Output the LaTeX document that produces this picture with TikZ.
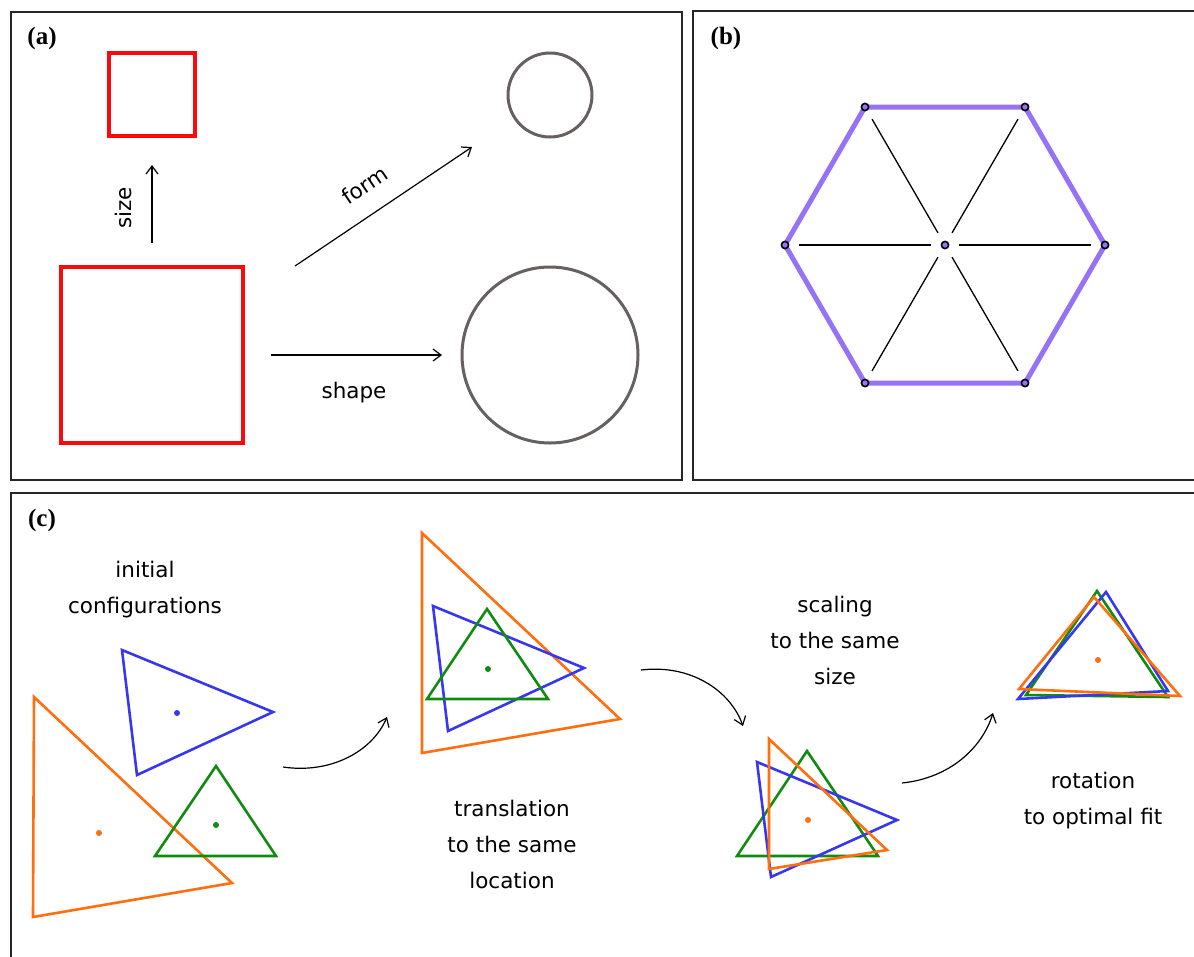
\documentclass[tikz,border=0pt]{standalone}
\usepackage{fontspec}
\setsansfont{DejaVu Sans}
\newfontfamily\panelfont{Liberation Serif}
\usepackage{tikz}
\usetikzlibrary{positioning,arrows.meta,calc}
\definecolor{sqred}{RGB}{250,10,10}
\definecolor{circgray}{RGB}{102,96,96}
\definecolor{hexpurple}{RGB}{150,114,245}
\definecolor{tblue}{RGB}{55,55,240}
\definecolor{torange}{RGB}{255,110,15}
\definecolor{tgreen}{RGB}{15,140,15}
\tikzset{
  panel/.style={draw=black!85,line width=1.5pt},
  plabel/.style={font=\panelfont\bfseries\fontsize{25}{28}\selectfont,inner sep=0pt},
  caption/.style={font=\fontsize{21.5}{36}\selectfont\sffamily,align=center,inner sep=0pt},
  flow/.style={line width=1.2pt,-{Straight Barb[length=8pt,width=12pt,line width=1.2pt]}},
  tri/.style={line width=2.6pt,line join=miter},
  dotmark/.style={fill,radius=3pt},
}
\begin{document}
\begin{tikzpicture}[x=1pt,y=-1pt]
\path[use as bounding box,clip] (0,0) rectangle (1194,956);
% frames
\draw[panel] (11,12) rectangle (682,480);
\draw[panel] (693,11) rectangle (1210,480);
\draw[panel] (11,493) rectangle (1210,975);
\node[plabel] (la) at (42,38) {(a)};
\node[plabel] (lb) at (726,38) {(b)};
\node[plabel] (lc) at (42,520) {(c)};

% (a) size, form, shape
\draw[sqred,line width=3.5pt] (109,53) rectangle (195,136);
\draw[sqred,line width=3.5pt] (61,267) rectangle (243,443);
\draw[circgray,line width=3pt] (550,95) circle[radius=42pt];
\draw[circgray,line width=3pt] (550,355) circle[radius=88pt];
\coordinate (szs) at (152,243); \coordinate (sze) at (152,165);
\coordinate (fms) at (295,266); \coordinate (fme) at (472,147);
\coordinate (shs) at (271,355); \coordinate (she) at (442,355);
\draw[flow] (szs) -- (sze);
\draw[flow] (fms) -- (fme);
\draw[flow] (shs) -- (she);
\node[caption,rotate=90] (size) at (123,208) {size};
\node[caption,rotate=34] (form) at (365,185) {form};
\node[caption] (shape) at (354,393) {shape};

% (b) hexagon with spokes
\coordinate (hc) at (945,245);
\coordinate (h1) at (1105,245); \coordinate (h2) at (1025,107);
\coordinate (h3) at (865,107);  \coordinate (h4) at (785,245);
\coordinate (h5) at (865,383);  \coordinate (h6) at (1025,383);
\draw[hexpurple,line width=5pt,line join=round] (h1) -- (h2) -- (h3) -- (h4) -- (h5) -- (h6) -- cycle;
\foreach \v in {h1,h2,h3,h4,h5,h6}
  \draw[line width=1.3pt,shorten <=14pt,shorten >=14pt] (hc) -- (\v);
\foreach \v in {hc,h1,h2,h3,h4,h5,h6}
  \draw[line width=1.6pt,fill=hexpurple] (\v) circle[radius=3.6pt];

% (c) initial configurations
\draw[tri,tblue] (122,650) -- (273,712) -- (137,775) -- cycle;
\draw[tri,torange] (34,697) -- (232,883) -- (33,917) -- cycle;
\draw[tri,tgreen] (216,766) -- (276,856) -- (155,856) -- cycle;
\fill[tblue] (177,713) circle[dotmark];
\fill[torange] (99,833) circle[dotmark];
\fill[tgreen] (216,825) circle[dotmark];
\node[caption] (init) at (145,590) {initial\\configurations};
% translated
\draw[tri,torange] (422,533) -- (620,719) -- (422,753) -- cycle;
\draw[tri,tblue] (433,606) -- (584,668) -- (448,731) -- cycle;
\draw[tri,tgreen] (487,609) -- (548,699) -- (427,699) -- cycle;
\fill[tgreen] (488,669) circle[dotmark];
\node[caption] (transl) at (512,844) {translation\\to the same\\location};
% scaled
\draw[tri,tgreen] (807,751) -- (878,856) -- (737,856) -- cycle;
\draw[tri,tblue] (757,762) -- (897,820) -- (771,877) -- cycle;
\draw[tri,torange] (769,739) -- (887,850) -- (769,869) -- cycle;
\fill[torange] (808,820) circle[dotmark];
\node[caption] (scal) at (835,640) {scaling\\to the same\\size};
% rotated
\draw[tri,tgreen] (1097,591) -- (1168,697) -- (1026,695) -- cycle;
\draw[tri,tblue] (1106,592) -- (1168,691) -- (1018,699) -- cycle;
\draw[tri,torange] (1094,597) -- (1180,696) -- (1019,689) -- cycle;
\fill[torange] (1098,660) circle[dotmark];
\node[caption] (rot) at (1093,801) {rotation\\to optimal fit};
% curved arrows between steps
\coordinate (t1s) at (283,767); \coordinate (t1e) at (387,717);
\coordinate (t2s) at (641,670); \coordinate (t2e) at (743,726);
\coordinate (t3s) at (902,783); \coordinate (t3e) at (993,713);
\draw[flow] (t1s) .. controls (330,774) and (372,752) .. (t1e);
\draw[flow] (t2s) .. controls (690,664) and (730,690) .. (t2e);
\draw[flow] (t3s) .. controls (950,778) and (982,748) .. (t3e);
\end{tikzpicture}
\end{document}
